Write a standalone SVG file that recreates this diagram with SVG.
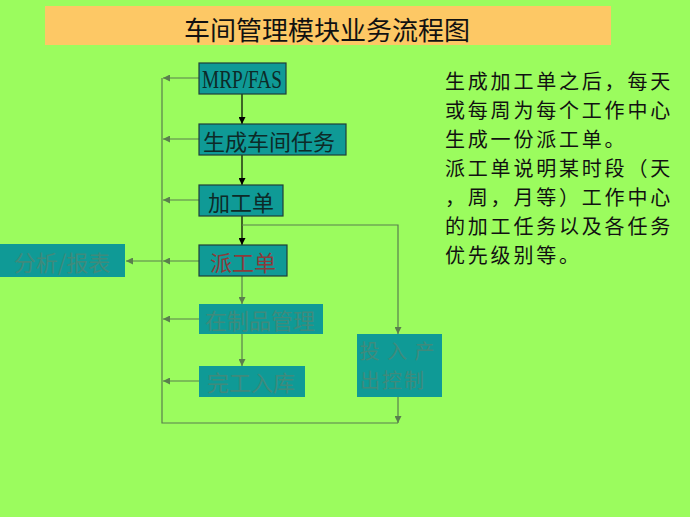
<svg xmlns="http://www.w3.org/2000/svg" width="690" height="517" viewBox="0 0 690 517">
<defs>
<marker id="ab" viewBox="0 0 10 10" refX="10" refY="5" markerWidth="7" markerHeight="7" markerUnits="userSpaceOnUse" orient="auto"><path d="M0,0 L10,5 L0,10 z" fill="#000"/></marker>
<marker id="ag" viewBox="0 0 10 10" refX="10" refY="5" markerWidth="7" markerHeight="7" markerUnits="userSpaceOnUse" orient="auto"><path d="M0,0 L10,5 L0,10 z" fill="#5a7f4e"/></marker>
<style>
.box{fill:#0f9a96;}
.bd{stroke:#1f3f3a;stroke-width:1.2;}
.t{font-family:"Noto Sans CJK SC","Liberation Serif",serif;font-size:22px;text-anchor:middle;dominant-baseline:central;}
.dk{fill:#0d2a28;}
.rd{fill:#8a3b3b;}
.gy{fill:#3f8a7c;}
.cb{stroke:#000;stroke-width:1.2;fill:none;}
.cg{stroke:#5a7f4e;stroke-width:1.2;fill:none;}
.note{font-family:"Noto Sans CJK SC",sans-serif;font-size:20px;letter-spacing:2.8px;fill:#111;}
</style>
</defs>
<rect width="690" height="517" fill="#9bfc5e"/>
<g id="title">
<rect x="45" y="6" width="566" height="39" fill="#fdc865"/>
<text x="327" y="28" style="font-family:'Noto Sans CJK SC',sans-serif;font-size:26px;fill:#111;text-anchor:middle;dominant-baseline:central;">车间管理模块业务流程图</text>
</g>
<g id="connectors">
<path class="cb" d="M242,94 V124" marker-end="url(#ab)"/>
<path class="cb" d="M242,155 V185" marker-end="url(#ab)"/>
<path class="cb" d="M242,216 V245" marker-end="url(#ab)"/>
<path class="cg" d="M242,225 H398 V334" marker-end="url(#ag)"/>
<path class="cg" d="M242,276 V304" marker-end="url(#ag)"/>
<path class="cg" d="M242,334 V366" marker-end="url(#ag)"/>
<path class="cg" d="M398,397 V423" marker-end="url(#ag)"/>
<path class="cg" d="M162,78 V423 H398"/>
<path class="cg" d="M199,78 H163" marker-end="url(#ag)"/>
<path class="cg" d="M199,139 H163" marker-end="url(#ag)"/>
<path class="cg" d="M199,200 H163" marker-end="url(#ag)"/>
<path class="cg" d="M199,261 H163" marker-end="url(#ag)"/>
<path class="cg" d="M162,261 H126" marker-end="url(#ag)"/>
<path class="cg" d="M199,319 H163" marker-end="url(#ag)"/>
<path class="cg" d="M199,381 H163" marker-end="url(#ag)"/>
</g>
<g id="n-mrp"><rect class="box bd" x="199" y="63" width="87" height="31"/><text class="t dk" x="242" y="79" style="font-family:'Liberation Serif',serif;font-size:25px;" textLength="80" lengthAdjust="spacingAndGlyphs">MRP/FAS</text></g>
<g id="n-task"><rect class="box bd" x="199" y="124" width="147" height="31"/><text class="t dk" x="269" y="140">生成车间任务</text></g>
<g id="n-order"><rect class="box bd" x="199" y="185" width="84" height="31"/><text class="t dk" x="241" y="201">加工单</text></g>
<g id="n-dispatch"><rect class="box bd" x="199" y="245" width="88" height="31"/><text class="t rd" x="243" y="261">派工单</text></g>
<g id="n-report"><rect class="box" x="0" y="244" width="125" height="33"/><text class="t gy" x="62" y="261">分析/报表</text></g>
<g id="n-wip"><rect class="box" x="199" y="304" width="124" height="30"/><text class="t gy" x="260" y="319">在制品管理</text></g>
<g id="n-finish"><rect class="box" x="199" y="366" width="106" height="31"/><text class="t gy" x="251" y="381">完工入库</text></g>
<g id="n-io"><rect class="box" x="357" y="334" width="85" height="63"/>
<text class="t gy" x="397" y="350" style="font-size:20px;" textLength="75" lengthAdjust="spacing">投入产</text>
<text class="t gy" x="393" y="379" style="font-size:20px;letter-spacing:2px;">出控制</text></g>
<g id="note">
<text class="note" x="445" y="89">生成加工单之后，每天</text>
<text class="note" x="445" y="118">或每周为每个工作中心</text>
<text class="note" x="445" y="147">生成一份派工单。</text>
<text class="note" x="445" y="176">派工单说明某时段（天</text>
<text class="note" x="445" y="205">，周，月等）工作中心</text>
<text class="note" x="445" y="234">的加工任务以及各任务</text>
<text class="note" x="445" y="263">优先级别等。</text>
</g>
</svg>
